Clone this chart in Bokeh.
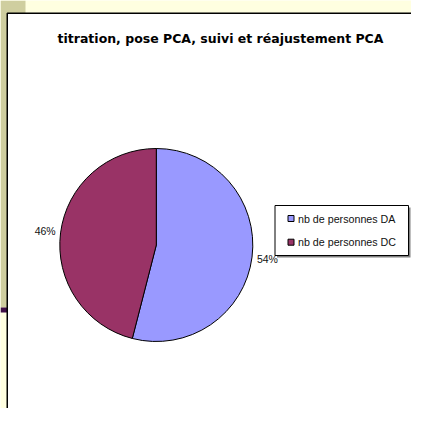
import math
from bokeh.plotting import figure
from bokeh.models import Range1d
from bokeh.core.properties import value
from bokeh.embed import file_html
from bokeh.resources import INLINE

# ---- data ----
title_text = ["titration, pose PCA, suivi et réajustement PCA"]
categories = ["nb de personnes DA", "nb de personnes DC"]
shares = [54, 46]
colors = ["#9999FF", "#993366"]

# ---- canvas (reference pixel coordinates; y flipped) ----
W, H = 411, 408
def Y(v):
    return 424 - v

p = figure(width=W, height=H, x_range=Range1d(0, W), y_range=Range1d(424 - H, 424),
           output_backend="svg", toolbar_location=None, min_border=0)
p.axis.visible = False
p.grid.visible = False
p.outline_line_color = None
p.background_fill_color = "#FFFFE0"
p.border_fill_color = "#FFFFE0"

FONT = value("Liberation Sans")

# decorative slide background
p.quad(left=[0], right=[25], top=[Y(0)], bottom=[Y(307)], fill_color="#CFCE9F", line_color=None)
p.quad(left=[0], right=[6.5], top=[Y(307)], bottom=[Y(312)], fill_color="#3F0F47", line_color=None)
# chart area
p.quad(left=[6.75], right=[426], top=[Y(12.75)], bottom=[Y(440)], fill_color="white",
       line_color="black", line_width=1.5)

# title
p.text(x=[220], y=[Y(37.5)], text=title_text, text_font=value("DejaVu Sans"), text_font_style="bold",
       text_font_size="12.5px", text_align="center", text_baseline="middle", text_color="black")

# pie
cx, cy, r = 155.8, Y(244.5), 96.5
total = float(sum(shares))
starts, ends, mids = [], [], []
a = math.pi / 2
for s in shares:
    e = a - 2 * math.pi * s / total
    starts.append(a)
    ends.append(e)
    mids.append((a + e) / 2)
    a = e
p.wedge(x=cx, y=cy, radius=r, start_angle=starts, end_angle=ends, direction="clock",
        fill_color=colors, line_color="black", line_width=1)

lx = [cx + 112 * math.cos(m) for m in mids]
ly = [cy + 112 * math.sin(m) for m in mids]
labels = [f"{round(100 * s / total)}%" for s in shares]
p.text(x=lx, y=ly, text=labels, text_font=FONT, text_font_size="10.5px",
       text_align="center", text_baseline="middle", text_color="#111111")

# legend
bl, br, bt, bb = 274.5, 408, Y(205), Y(255)
p.quad(left=[bl + 2], right=[br + 2], top=[bt - 2], bottom=[bb - 2], fill_color="#808080", line_color=None)
p.quad(left=[bl], right=[br], top=[bt], bottom=[bb], fill_color="white", line_color="black", line_width=1)
rows = [Y(218), Y(241.7)]
p.rect(x=[bl + 16] * len(categories), y=rows, width=6, height=6, fill_color=colors,
       line_color="black", line_width=1)
p.text(x=[bl + 23] * len(categories), y=rows, text=categories, text_font=FONT,
       text_font_size="10.7px", text_align="left", text_baseline="middle", text_color="#111111")

open("out.html", "w").write(file_html(p, INLINE))
